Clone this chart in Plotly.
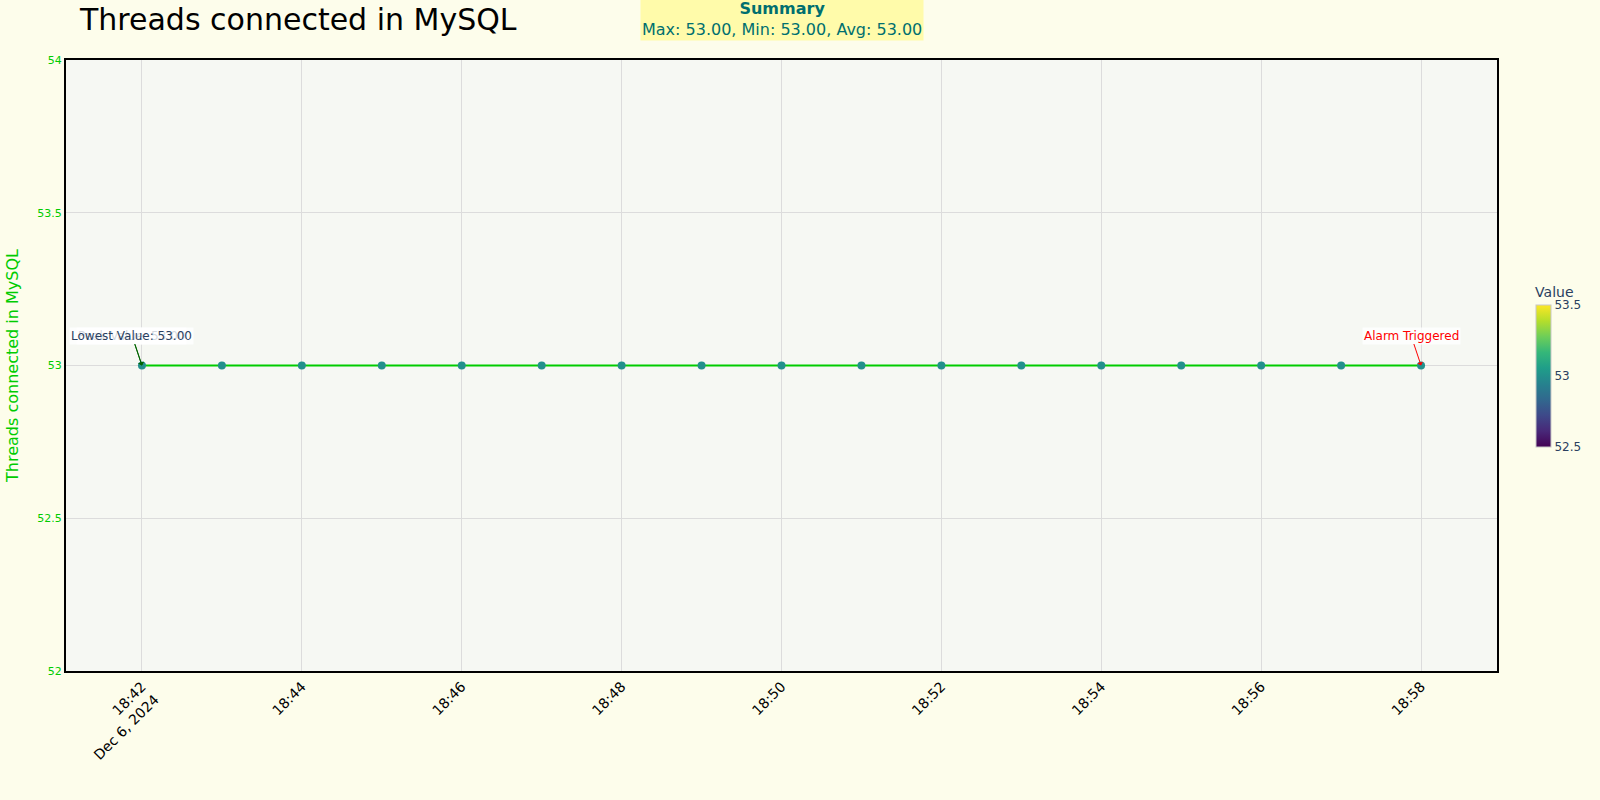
import plotly.graph_objects as go
import pandas as pd

## Data
times = pd.date_range("2024-12-06 18:42", "2024-12-06 18:58", freq="1min")
values = [53, 53, 53, 53, 53, 53, 53, 53, 53, 53, 53, 53, 53, 53, 53, 53, 53]
metric_name = "Threads connected in MySQL"

## Summary stats
v_max, v_min = max(values), min(values)
v_avg = sum(values) / len(values)
summary_text = f"<b>Summary</b><br>Max: {v_max:.2f}, Min: {v_min:.2f}, Avg: {v_avg:.2f}"

line_green = "#00CC00"

fig = go.Figure()

fig.add_trace(go.Scatter(
    x=times, y=values,
    mode="markers+lines",
    line=dict(color=line_green, width=2),
    marker=dict(size=8, color=values, colorscale="Viridis", showscale=True,
                colorbar=dict(title=dict(text="Value"), len=0.3, thickness=15,
                              outlinecolor="#c8c8c8")),
    showlegend=False,
))

# Peak / lowest / alarm annotations (peak and lowest sit on the same point here)
lo_idx = values.index(v_min)
hi_idx = values.index(v_max)
fig.add_annotation(x=times[hi_idx], y=v_max, text=f"Peak Value: {v_max:.2f}",
                   showarrow=True, arrowhead=1, arrowcolor="darkgreen",
                   font=dict(size=12, color="#2a3f5f"), bgcolor="rgba(255,255,255,0.8)")
fig.add_annotation(x=times[lo_idx], y=v_min, text=f"Lowest Value: {v_min:.2f}",
                   showarrow=True, arrowhead=1, arrowcolor="darkgreen",
                   font=dict(size=12, color="#2a3f5f"), bgcolor="rgba(255,255,255,0.8)")
fig.add_annotation(x=times[-1], y=values[-1], text="Alarm Triggered",
                   showarrow=True, arrowhead=1, arrowcolor="red",
                   font=dict(size=12, color="red"), bgcolor="rgba(255,255,255,0.8)")

# Summary box on top
fig.add_annotation(xref="paper", yref="paper", x=0.5, y=1.031, yanchor="bottom",
                   text=summary_text, showarrow=False,
                   font=dict(size=16, color="#006f6f"), bgcolor="#FFFBAA")

pad = pd.Timedelta(seconds=57)
fig.update_layout(
    width=1600, height=800,
    font=dict(family="DejaVu Sans"),
    title=dict(text=metric_name, x=0.05, xanchor="left", y=0.976, yanchor="middle",
               font=dict(size=30, color="black")),
    paper_bgcolor="#FDFDEB",
    plot_bgcolor="#F6F8F3",
    margin=dict(l=66, r=103, t=60, b=129),
    xaxis=dict(range=[times[0] - pad, times[-1] + pad], dtick=120000, tickangle=-45,
               tickfont=dict(size=14, color="black"), gridcolor="#dcdcdc",
               showline=True, linecolor="black", linewidth=2, mirror=True),
    yaxis=dict(range=[52, 54], dtick=0.5, tickfont=dict(size=11, color=line_green),
               title=dict(text=metric_name, font=dict(size=16, color=line_green)),
               gridcolor="#dcdcdc", zeroline=False,
               showline=True, linecolor="black", linewidth=2, mirror=True),
)

fig.write_html("out.html", config={"displayModeBar": False},
               post_script="document.body.style.margin='0';")
